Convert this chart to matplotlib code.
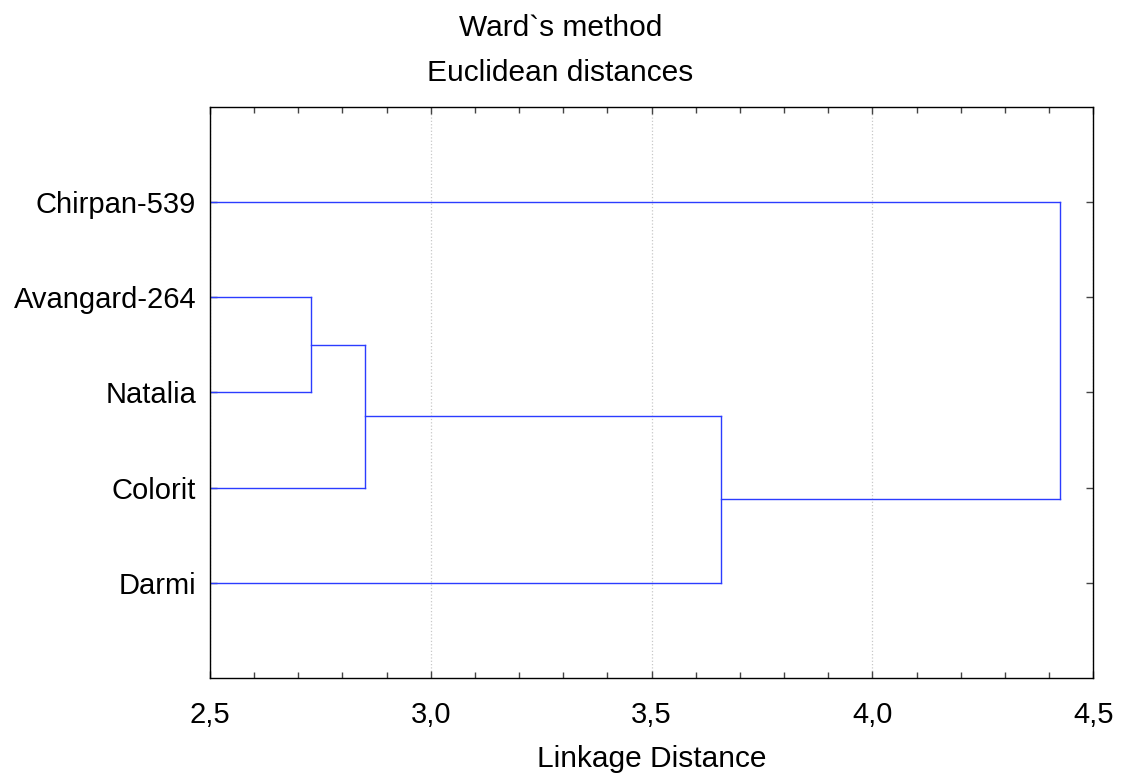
import numpy as np
import matplotlib.pyplot as plt
from matplotlib.ticker import MultipleLocator, FuncFormatter

plt.rcParams['font.family'] = ['Liberation Sans', 'DejaVu Sans']

# leaf labels, bottom to top
labels = ['Darmi', 'Colorit', 'Natalia', 'Avangard-264', 'Chirpan-539']
# merges: (left member, right member, linkage distance)
# members 0..4 are leaves, 5.. are clusters made by earlier merges
merges = [
    (3, 2, 2.729),
    (5, 1, 2.851),
    (6, 0, 3.657),
    (7, 4, 4.425),
]
x_ticks = [2.5, 3.0, 3.5, 4.0, 4.5]

line_col = '#2b3cff'


def draw_dendrogram(ax):
    ypos = {i: i + 1 for i in range(len(labels))}
    height = {i: 0.0 for i in range(len(labels))}
    for k, (a, b, d) in enumerate(merges):
        for m in (a, b):
            ax.plot([height[m], d], [ypos[m], ypos[m]], color=line_col, lw=1.0)
        ax.plot([d, d], [ypos[a], ypos[b]], color=line_col, lw=1.0)
        new = len(labels) + k
        ypos[new] = (ypos[a] + ypos[b]) / 2
        height[new] = d


W, H = 1121, 778
fig = plt.figure(figsize=(W / 100, H / 100), dpi=100)
ax = fig.add_axes([210 / W, 100 / H, 883.3 / W, 571.3 / H])

draw_dendrogram(ax)

ax.set_xlim(2.5, 4.5)
ax.set_ylim(0, len(labels) + 1)
ax.set_xticks(x_ticks)
ax.xaxis.set_minor_locator(MultipleLocator(0.1))
ax.xaxis.set_major_formatter(FuncFormatter(lambda v, p: ('%.1f' % v).replace('.', ',')))
ax.set_yticks(range(1, len(labels) + 1))
ax.set_yticklabels(labels)

ax.tick_params(axis='both', which='both', direction='in', top=True, right=True,
               labelsize=21, color='#444444')
ax.tick_params(axis='both', which='major', length=5, width=1)
ax.tick_params(axis='x', which='minor', length=4, width=1)
ax.tick_params(axis='x', pad=16.4)
ax.tick_params(axis='y', pad=10)

ax.grid(axis='x', which='major', color='#c8c8c8', linestyle=':', lw=0.9)
for s in ax.spines.values():
    s.set_color('black')
    s.set_linewidth(1.0)

ax.set_xlabel('Linkage Distance', fontsize=21.5)
ax.xaxis.set_label_coords(0.5, (11 - 100) / 571.3)
ax.xaxis.label.set_verticalalignment('baseline')

fig.text(0.5, 1 - 36 / H, 'Ward`s method', ha='center', va='baseline', fontsize=21.5)
fig.text(0.5, 1 - 81 / H, 'Euclidean distances', ha='center', va='baseline', fontsize=21.5)

fig.savefig('out.png', dpi=100)
